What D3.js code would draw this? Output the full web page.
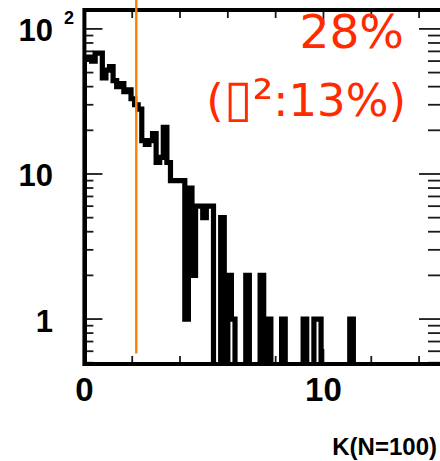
<!DOCTYPE html>
<html>
<head>
<meta charset="utf-8">
<script src="https://cdn.jsdelivr.net/npm/d3@7"></script>
<style>
  html, body { margin: 0; padding: 0; background: #fff; }
  svg { display: block; }
</style>
</head>
<body>
<svg id="chart" width="440" height="461"></svg>
<script>
// Distribution of K for N=100, 100 bins of width 0.15 on [0, 15], log-scale counts.
const xDomain = [0, 15];
const yDomain = [0.49, 135];
const binWidth = 0.15;
const counts = [
  62, 64, 60, 68, 68, 46, 52, 55, 44, 40,
  42, 37, 38, 33, 30, 28, 17, 16, 17, 19,
  12, 13, 21, 12,  9,  9,  9,  9,  1,  8,
   2,  6,  6,  5,  6,  6,  0,  0,  5,  0,
   2,  1,  0,  0,  0,  2,  0,  0,  0,  2,
   0,  1,  0,  0,  0,  1,  0,  0,  0,  0,
   0,  1,  0,  0,  1,  1,  0,  0,  0,  0,
   0,  0,  0,  0,  1,  0,  0,  0,  0,  0,
   0,  0,  0,  0,  0,  0,  0,  0,  0,  0,
   0,  0,  0,  0,  0,  0,  0,  0,  0,  0
];
const xLabelValues = [0, 10];
const xLabelText = ["0", "10"];
const yLabelValues = [1, 10, 100];
const yLabelText = ["1", "10", "10"];
const yLabelExponent = ["", "", "2"];
const cutK = 2.17;          // vertical cut marker
const cutLowValue = 0.58;   // lower end of the cut marker
const fractionText = "28%";
const fractionDetail = ["(", "\u25AF", "\u00B2", ":13%)"];
const xTitle = "K(N=100)";

const svg = d3.select("#chart");
svg.append("rect").attr("width", 440).attr("height", 461).attr("fill", "#fff");

const x = d3.scaleLinear().domain(xDomain).range([84.4, 443]);
const y = d3.scaleLog().domain(yDomain).range([364, 10]);
const [yBottom, yTop] = y.range();

// clip region = plotting frame
svg.append("defs").append("clipPath").attr("id", "frameClip")
  .append("rect")
  .attr("x", x(xDomain[0])).attr("y", yTop)
  .attr("width", x(xDomain[1]) - x(xDomain[0]))
  .attr("height", yBottom - yTop);

// --- axis ticks (drawn inward on all four sides) ---
const tickG = svg.append("g").attr("stroke", "#1a1a1a").attr("stroke-width", 1.8);
const yTicks = y.ticks().filter(v => v >= yDomain[0] && v <= yDomain[1]);
const isDecade = v => Math.abs(Math.log10(v) - Math.round(Math.log10(v))) < 1e-9;
yTicks.forEach(v => {
  const len = isDecade(v) ? 18 : 9;
  tickG.append("line").attr("x1", x(xDomain[0])).attr("x2", x(xDomain[0]) + len)
    .attr("y1", y(v)).attr("y2", y(v));
  tickG.append("line").attr("x1", x(xDomain[1])).attr("x2", x(xDomain[1]) - len - 6)
    .attr("y1", y(v)).attr("y2", y(v));
});
const xTicks = x.ticks(8);
xTicks.forEach(v => {
  const len = xLabelValues.includes(v) ? 15 : 8;
  tickG.append("line").attr("x1", x(v)).attr("x2", x(v))
    .attr("y1", yTop).attr("y2", yTop + len);
  tickG.append("line").attr("x1", x(v)).attr("x2", x(v))
    .attr("y1", yBottom).attr("y2", yBottom - len);
});

// --- histogram outline ---
const binPoints = counts.map((c, i) => ({ k: xDomain[0] + i * binWidth, c }));
const stepPoints = [{ k: xDomain[0], c: 0 }, ...binPoints,
  { k: xDomain[0] + counts.length * binWidth, c: counts[counts.length - 1] },
  { k: xDomain[0] + counts.length * binWidth, c: 0 }];
const hist = d3.line()
  .x(d => x(d.k))
  .y(d => d.c > 0 ? y(d.c) : yBottom + 20)
  .curve(d3.curveStepAfter);
svg.append("path")
  .attr("clip-path", "url(#frameClip)")
  .attr("d", hist(stepPoints))
  .attr("fill", "none")
  .attr("stroke", "#000")
  .attr("stroke-width", 5.2)
  .attr("stroke-linejoin", "miter");

// --- frame ---
svg.append("rect")
  .attr("x", x(xDomain[0])).attr("y", yTop)
  .attr("width", x(xDomain[1]) - x(xDomain[0]))
  .attr("height", yBottom - yTop)
  .attr("fill", "none").attr("stroke", "#000").attr("stroke-width", 4);

// --- cut marker ---
svg.append("line")
  .attr("x1", x(cutK)).attr("x2", x(cutK))
  .attr("y1", 0).attr("y2", y(cutLowValue))
  .attr("stroke", "#ff8000").attr("stroke-width", 2.4);

// --- axis labels ---
const labelFont = "'Liberation Sans', Arial, Helvetica, sans-serif";
xLabelValues.forEach((v, i) => {
  svg.append("text").attr("x", x(v)).attr("y", 401)
    .attr("text-anchor", "middle")
    .attr("font-family", labelFont).attr("font-weight", "bold").attr("font-size", 33)
    .attr("fill", "#000").text(xLabelText[i]);
});
yLabelValues.forEach((v, i) => {
  svg.append("text").attr("x", 53).attr("y", y(v) + 12.5)
    .attr("text-anchor", "end")
    .attr("font-family", labelFont).attr("font-weight", "bold").attr("font-size", 31)
    .attr("fill", "#000").text(yLabelText[i]);
  if (yLabelExponent[i]) {
    svg.append("text").attr("x", 64).attr("y", y(v) - 4.5)
      .attr("font-family", labelFont).attr("font-weight", "bold").attr("font-size", 18)
      .attr("fill", "#000").text(yLabelExponent[i]);
  }
});
svg.append("text").attr("x", 437).attr("y", 455)
  .attr("text-anchor", "end")
  .attr("font-family", labelFont).attr("font-weight", "bold").attr("font-size", 24)
  .attr("fill", "#000").text(xTitle);

// --- fraction annotation ---
const noteFont = "'Comic Sans MS', 'DejaVu Sans', sans-serif";
svg.append("text").attr("x", 404).attr("y", 48)
  .attr("text-anchor", "end")
  .attr("font-family", noteFont).attr("font-size", 47)
  .attr("fill", "#ff2a00").text(fractionText);
const detail = svg.append("text").attr("x", 406).attr("y", 116)
  .attr("text-anchor", "end")
  .attr("font-family", noteFont).attr("font-size", 45)
  .attr("fill", "#ff2a00");
detail.append("tspan").text(fractionDetail[0]);
detail.append("tspan").attr("font-size", 52).text(fractionDetail[1]);
detail.append("tspan").attr("font-size", 52).text(fractionDetail[2]);
detail.append("tspan").text(fractionDetail[3]);
</script>
</body>
</html>
